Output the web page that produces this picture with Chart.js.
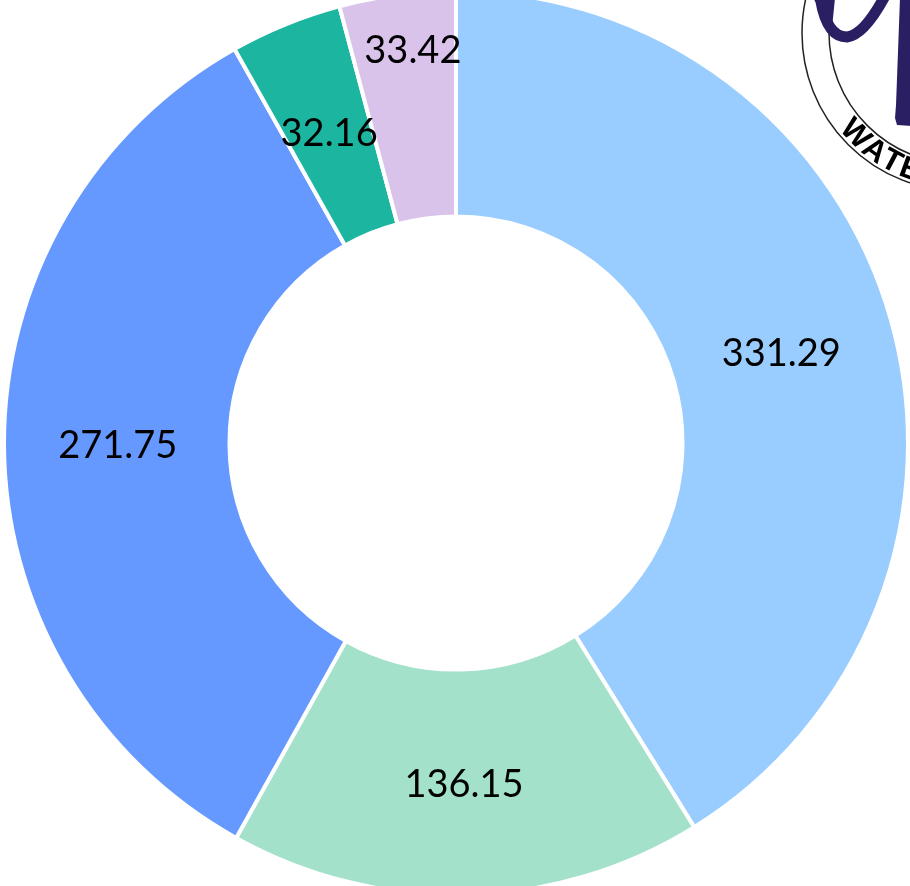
<!DOCTYPE html>
<html>
<head>
    <title>Doughnut</title>
    <script src="https://cdnjs.cloudflare.com/ajax/libs/Chart.js/4.4.0/chart.umd.min.js"></script>
    <style>
        html, body { margin: 0; padding: 0; background: #fff; overflow: hidden; }
        #wrap { width: 910px; height: 886px; overflow: hidden; }
    </style>
</head>
<body>
    <div id="wrap"><canvas id="myChart" width="912" height="886"></canvas></div>

    <script>
        // Data
        const categories = ['A', 'B', 'C', 'D', 'E'];
        const values = [331.29, 136.15, 271.75, 32.16, 33.42];
        const colors = ['#99CCFF', '#A3E1CB', '#6699FF', '#1BB5A0', '#D9C3EB'];
        // labels that were dragged off the slice middle in the original
        const labelNudgeX = [-1, 0, 1, 1, 1];
        const labelNudgeY = [4, 3, 2, 5, -56];

        // Value labels, drawn at each arc's centre
        const valueLabels = {
            id: 'valueLabels',
            afterDatasetsDraw(chart) {
                const c = chart.ctx;
                c.save();
                c.font = '38px Lato';
                c.fillStyle = '#000';
                c.textAlign = 'center';
                c.textBaseline = 'middle';
                chart.getDatasetMeta(0).data.forEach((arc, i) => {
                    const p = arc.getCenterPoint();
                    c.fillText(values[i].toFixed(2), p.x + labelNudgeX[i], p.y + labelNudgeY[i]);
                });
                c.restore();
            }
        };

        // Corner of the logo stamp that sits behind the chart
        const logoStamp = {
            id: 'logoStamp',
            beforeDatasetsDraw(chart) {
                const c = chart.ctx;
                const cx = 960, cy = 33;
                c.save();
                c.strokeStyle = '#222';
                c.lineWidth = 1.5;
                [158, 131].forEach(r => {
                    c.beginPath();
                    c.arc(cx, cy, r, 0, Math.PI * 2);
                    c.stroke();
                });
                c.font = 'bold 31px "Liberation Sans"';
                c.fillStyle = '#000';
                c.textAlign = 'center';
                c.textBaseline = 'middle';
                [['W', 46], ['A', 36], ['T', 28], ['E', 20]].forEach(([ch, deg]) => {
                    const a = deg * Math.PI / 180;
                    c.save();
                    c.translate(cx - 146 * Math.sin(a), cy + 146 * Math.cos(a));
                    c.rotate(a);
                    c.fillText(ch, 0, 0);
                    c.restore();
                });
                // hand drawn glyph
                c.strokeStyle = '#2A1F63';
                c.fillStyle = '#2A1F63';
                c.lineCap = 'round';
                c.lineJoin = 'round';
                c.lineWidth = 11;
                c.beginPath();
                c.moveTo(820, -4);
                c.quadraticCurveTo(826, 37, 847, 37);
                c.quadraticCurveTo(864, 35, 885, -4);
                c.stroke();
                c.beginPath();
                c.moveTo(813, -2);
                c.lineTo(835, -2);
                c.lineTo(832, 28);
                c.closePath();
                c.fill();
                c.beginPath();
                c.moveTo(900, -2);
                c.lineTo(912, -2);
                c.lineTo(912, 126);
                c.lineTo(897, 125);
                c.lineTo(895, 118);
                c.lineTo(896, 105);
                c.closePath();
                c.fill();
                c.restore();
            }
        };

        // Config
        const config = {
            type: 'doughnut',
            data: {
                labels: categories,
                datasets: [{
                    data: values,
                    backgroundColor: colors,
                    borderColor: '#fff',
                    borderWidth: 4,
                    borderAlign: 'center'
                }]
            },
            options: {
                responsive: false,
                animation: false,
                radius: 452,
                cutout: 221,
                plugins: {
                    legend: { display: false },
                    tooltip: { enabled: false }
                }
            },
            plugins: [logoStamp, valueLabels]
        };

        // Create the chart
        const ctx = document.getElementById('myChart');
        new Chart(ctx, config);
    </script>
</body>
</html>
